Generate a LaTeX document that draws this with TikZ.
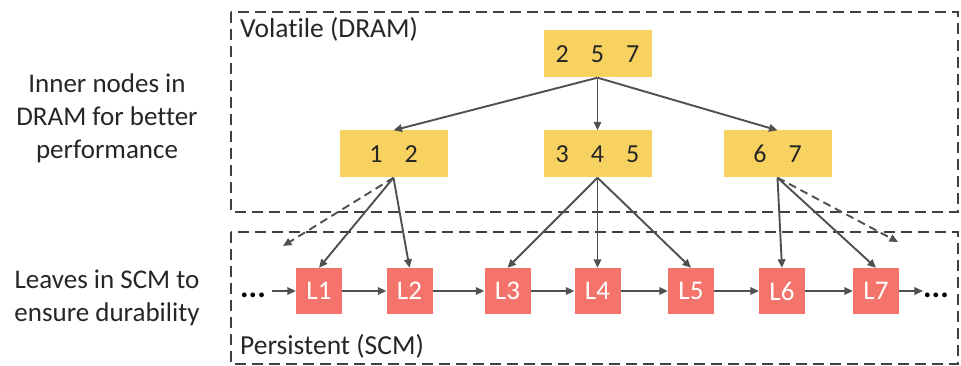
\documentclass[tikz,border=0pt]{standalone}
\usepackage{fontspec}
\setmainfont{Carlito}[Ligatures={NoCommon,NoContextual,NoRare},Contextuals=NoAlternate]
\usetikzlibrary{arrows.meta}
\definecolor{nodeyellow}{HTML}{F7D260}
\definecolor{leafred}{HTML}{F4736A}
\definecolor{linegray}{HTML}{505050}
\definecolor{boxgray}{HTML}{404040}
\definecolor{textdark}{HTML}{262626}
\tikzset{
  region/.style={draw=boxgray, line width=2.2pt, dash pattern=on 11pt off 6pt},
  inner/.style={fill=nodeyellow, minimum width=108pt, minimum height=47pt, inner sep=0pt,
    text=textdark, font=\fontsize{26}{30}\selectfont},
  leaf/.style={fill=leafred, minimum size=46pt, inner sep=0pt, text=white,
    font=\fontsize{27}{31}\selectfont},
  link/.style={draw=linegray, line width=1.9pt, -{Triangle[length=8.5pt,width=7.5pt]}},
  dlink/.style={link, dash pattern=on 8pt off 5pt},
  tag/.style={anchor=west, text=textdark, font=\fontsize{27.5}{32}\selectfont, inner sep=0pt},
  side/.style={align=center, text=textdark, font=\fontsize{27}{33}\selectfont},
  dots/.style={anchor=base, text=black, font=\bfseries\fontsize{32}{36}\selectfont, inner sep=0pt}
}
\newcommand{\gapd}{\hspace{22pt}}
\begin{document}
\begin{tikzpicture}[x=1pt,y=-1pt]
\useasboundingbox (0,0) rectangle (961,366);

% memory regions
\draw[region] (231,12) rectangle (958,212);
\draw[region] (231,232) rectangle (958,364);
\node[tag] (vol) at (240,29) {Volatile (DRAM)};
\node[tag] (per) at (240,346) {Persistent (SCM)};

% side captions
\node[side] (capin) at (107,118) {Inner nodes in\\DRAM for better\\performance};
\node[side] (capleaf) at (107,298) {Leaves in SCM to\\ensure durability};

% inner nodes
\node[inner] (root) at (597.5,54) {2\gapd 5\gapd 7};
\node[inner] (n12) at (393.5,154) {1\gapd 2};
\node[inner] (n345) at (597.5,154) {3\gapd 4\gapd 5};
\node[inner] (n67) at (777.5,154) {6\gapd 7};

% leaves
\node[leaf] (l1) at (319,291) {L1};
\node[leaf] (l2) at (409.5,291) {L2};
\node[leaf] (l3) at (507.5,291) {L3};
\node[leaf] (l4) at (597.5,291) {L4};
\node[leaf] (l5) at (691,291) {L5};
\node[leaf] (l6) at (782,291) {L6};
\node[leaf] (l7) at (876,291) {L7};

\node[dots] (ldots) at (253,297.5) {...};
\node[dots] (rdots) at (936,297.5) {...};
\coordinate (dl) at (283,246);
\coordinate (dr) at (898,242);

% tree links
\draw[link] (root.south) -- (n12.north);
\draw[link] (root.south) -- (n345.north);
\draw[link] (root.south) -- (n67.north);

\draw[link] (n12.south) -- (l1.north);
\draw[link] (n12.south) -- (l2.north);
\draw[dlink] (n12.south) -- (dl);
\draw[link] (n345.south) -- (l3.north);
\draw[link] (n345.south) -- (l4.north);
\draw[link] (n345.south) -- (l5.north);
\draw[link] (n67.south) -- (l6.north);
\draw[link] (n67.south) -- (l7.north);
\draw[dlink] (n67.south) -- (dr);

% leaf chain
\draw[link] (ldots.east |- l1.west) ++(6pt,0) -- (l1.west);
\draw[link] (l1) -- (l2);
\draw[link] (l2) -- (l3);
\draw[link] (l3) -- (l4);
\draw[link] (l4) -- (l5);
\draw[link] (l5) -- (l6);
\draw[link] (l6) -- (l7);
\draw[link] (l7.east) -- (rdots.west |- l7.east);
\end{tikzpicture}
\end{document}
